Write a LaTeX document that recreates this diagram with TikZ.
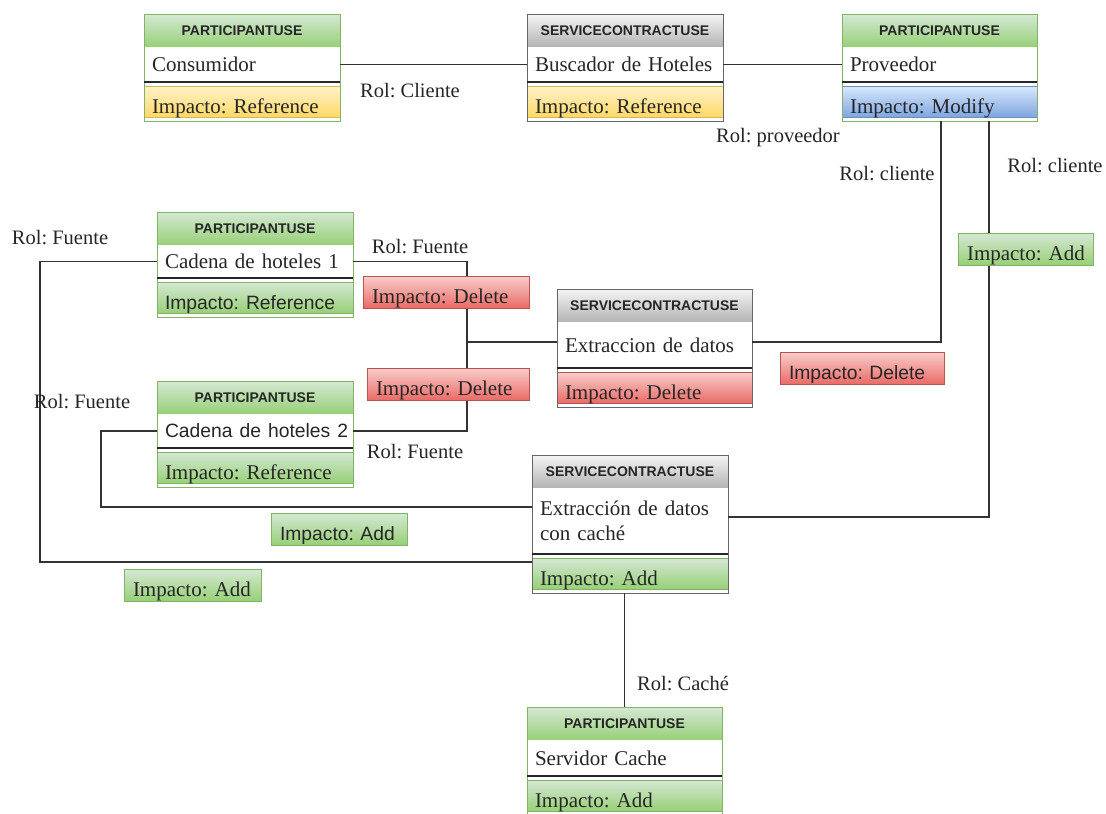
\documentclass[tikz,border=0pt]{standalone}
\usepackage{fontspec}
\setmainfont{Liberation Serif}
\setsansfont{Liberation Sans}
\usetikzlibrary{calc,fit}
\frenchspacing

\definecolor{ink}{HTML}{262626}
\definecolor{linkc}{HTML}{333333}
\definecolor{grnTop}{HTML}{D5E8D4}
\definecolor{grnBot}{HTML}{97D077}
\definecolor{grnEdge}{HTML}{82B366}
\definecolor{gryTop}{HTML}{F5F5F5}
\definecolor{gryBot}{HTML}{B3B3B3}
\definecolor{gryEdge}{HTML}{666666}
\definecolor{ylwTop}{HTML}{FFF2CC}
\definecolor{ylwBot}{HTML}{FFD966}
\definecolor{ylwEdge}{HTML}{D6B656}
\definecolor{bluTop}{HTML}{DAE8FC}
\definecolor{bluBot}{HTML}{7EA6E0}
\definecolor{bluEdge}{HTML}{6C8EBF}
\definecolor{redTop}{HTML}{F8CECC}
\definecolor{redBot}{HTML}{EA6B66}
\definecolor{redEdge}{HTML}{B85450}

\newcommand\ttlP{PARTICIPANTUSE}
\newcommand\ttlS{SERVICECONTRACTUSE}
\newcommand\sanstxt{\sffamily\fontsize{19.3}{22}\selectfont}

\tikzset{
  base/.style={inner sep=0pt, outer sep=0pt, text=ink},
  serif/.style={font=\fontsize{21}{25}\selectfont},
  hdrbase/.style={base, minimum height=33pt, line width=0.8pt,
    font=\sffamily\bfseries\fontsize{14}{16}\selectfont},
  hdrP/.style={hdrbase, draw=grnEdge, top color=grnTop, bottom color=grnBot},
  hdrS/.style={hdrbase, draw=gryEdge, top color=gryTop, bottom color=gryBot},
  framP/.style={base, draw=grnEdge, line width=1pt},
  framS/.style={base, draw=gryEdge, line width=1pt},
  namebox/.style={base, serif, inner xsep=8pt, align=left, fill=white},
  impbar/.style={base, serif, inner xsep=8pt, align=left, minimum height=31pt,
    text height=24pt, text depth=1pt, line width=0.8pt},
  impY/.style={impbar, draw=ylwEdge, top color=ylwTop, bottom color=ylwBot},
  impB/.style={impbar, draw=bluEdge, top color=bluTop, bottom color=bluBot},
  impR/.style={impbar, draw=redEdge, top color=redTop, bottom color=redBot},
  impG/.style={impbar, draw=grnEdge, top color=grnTop, bottom color=grnBot},
  tagbase/.style={base, serif, inner xsep=9pt, align=left, minimum height=32pt,
    text height=24pt, text depth=1pt, line width=0.8pt, anchor=north west},
  tagR/.style={tagbase, draw=redEdge, top color=redTop, bottom color=redBot},
  tagG/.style={tagbase, draw=grnEdge, top color=grnTop, bottom color=grnBot},
  sepline/.style={draw=ink, line width=1.6pt},
  link/.style={draw=linkc, line width=1.5pt},
  role/.style={base, serif, font=\fontsize{20.5}{24}\selectfont},
}

% #1 id, #2 x, #3 y, #4 width, #5 name row height, #6 kind (P/S),
% #7 name text, #8 impact style, #9 impact text
\newcommand\umlbox[9]{%
  \node[hdr#6, minimum width=#4pt, anchor=north west] (#1h) at (#2,#3) {\csname ttl#6\endcsname};
  \node[namebox, text width={#4pt-16pt}, minimum height=#5pt, anchor=north west] (#1n) at (#1h.south west) {#7};
  \node[#8, text width={#4pt-16pt}, anchor=north west] (#1i) at ($(#1n.south west)+(0,4)$) {\mbox{#9}};
  \coordinate (#1b) at ($(#1i.south west)+(0,4)$);
  \node[fram#6, fit=(#1h)(#1b)] (#1) {};
  \draw[sepline] (#1n.south west) -- (#1n.south east);
}

\begin{document}
\begin{tikzpicture}[x=1pt,y=-1pt]
\useasboundingbox[fill=white] (0,0) rectangle (1106,814);

% class boxes
\umlbox{cons}{144}{14}{196}{35}{P}{\mbox{Consumidor}}{impY}{Impacto: Reference}
\umlbox{busc}{527}{14}{196}{35}{S}{\mbox{Buscador de Hoteles}}{impY}{Impacto: Reference}
\umlbox{prov}{842}{14}{195}{35}{P}{\mbox{Proveedor}}{impB}{Impacto: Modify}
\umlbox{cad1}{157}{212}{196}{33}{P}{\mbox{Cadena de hoteles 1}}{impG}{\sanstxt Impacto: Reference}
\umlbox{cad2}{157}{381}{196}{34}{P}{\mbox{\sanstxt Cadena de hoteles 2}}{impG}{Impacto: Reference}
\umlbox{extr}{557}{289}{195}{46}{S}{\mbox{Extraccion de datos}}{impR}{Impacto: Delete}
\umlbox{extc}{532}{455}{196}{66}{S}{\mbox{Extracción de datos}\\\mbox{con caché}}{impG}{Impacto: Add}
\umlbox{serv}{527}{707}{195}{36}{P}{\mbox{Servidor Cache}}{impG}{Impacto: Add}

% bend points of the connectors
\coordinate (k1) at (941,342);
\coordinate (k2) at (989,517);
\coordinate (k3) at (467,342);
\coordinate (k4) at (101,507);
\coordinate (k5) at (40,562);

% connectors
\draw[link] (consn.east) -- (buscn.west);
\draw[link] (buscn.east) -- (provn.west);
\draw[link] (prov.south -| k1) -- (k1) -- (extr.east |- k1);
\draw[link] (prov.south -| k2) -- (k2) -- (extc.east |- k2);
\draw[link] (cad1n.east) -| (k3) |- (cad2n.east);
\draw[link] (k3) -- (extr.west |- k3);
\draw[link] (cad2n.west) -| (k4) -- (extc.west |- k4);
\draw[link] (cad1n.west) -| (k5) -- (extc.west |- k5);
\draw[link] (serv.north |- extc.south) -- (serv.north);

% impact tags on the connectors
\node[tagR, text width=148pt] (del1) at (363,276) {\mbox{Impacto: Delete}};
\node[tagR, text width=144pt] (del2) at (367,368) {\mbox{Impacto: Delete}};
\node[tagR, text width=146pt, font=\sanstxt] (del3) at (780,352) {\mbox{Impacto: Delete}};
\node[tagG, text width=117pt] (add1) at (958,233) {\mbox{Impacto: Add}};
\node[tagG, text width=118pt, font=\sanstxt] (add2) at (271,513) {\mbox{Impacto: Add}};
\node[tagG, text width=119pt] (add3) at (124,569) {\mbox{Impacto: Add}};

% role labels
\node[role] (r1) at (410,91) {Rol: Cliente};
\node[role] (r2) at (778,138) {Rol: proveedor};
\node[role] (r3) at (887,174) {Rol: cliente};
\node[role] (r4) at (1055,166) {Rol: cliente};
\node[role] (r5) at (60,238) {Rol: Fuente};
\node[role] (r6) at (420,247) {Rol: Fuente};
\node[role] (r7) at (82,402) {Rol: Fuente};
\node[role] (r8) at (415,452) {Rol: Fuente};
\node[role] (r9) at (683,684) {Rol: Caché};
\end{tikzpicture}
\end{document}
